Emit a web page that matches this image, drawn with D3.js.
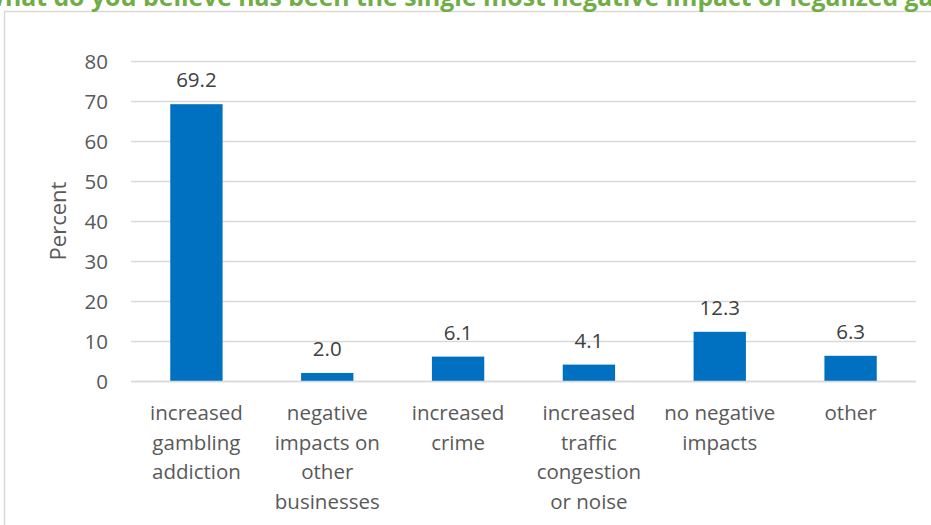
<!DOCTYPE html>
<html>
<head>
<meta charset="utf-8">
<script src="https://cdn.jsdelivr.net/npm/d3@7"></script>
<style>
  html, body { margin: 0; padding: 0; background: #fff; }
  svg { display: block; }
</style>
</head>
<body>
<svg id="chart" width="931" height="525"></svg>
<script>
// Survey responses: single most negative impact of legalized gambling (percent)
const categories = [
  ["increased", "gambling", "addiction"],
  ["negative", "impacts on", "other", "businesses"],
  ["increased", "crime"],
  ["increased", "traffic", "congestion", "or noise"],
  ["no negative", "impacts"],
  ["other"]
];
const values = [69.2, 2.0, 6.1, 4.1, 12.3, 6.3];
const yTicks = [0, 10, 20, 30, 40, 50, 60, 70, 80];
const titleText = "What do you believe has been the single most negative impact of legalized gambling?";
const yAxisTitle = "Percent";

const font = "'Open Sans', Lato, sans-serif";
const fontSize = 20.5;
const svg = d3.select("#chart");

// Chart frame
svg.append("rect")
  .attr("x", 4.5).attr("y", 11.5)
  .attr("width", 940).attr("height", 530)
  .attr("fill", "#fff")
  .attr("stroke", "#d9d9d9").attr("stroke-width", 1.5);

// Title, wider than the frame and clipped at the top edge
const title = svg.append("text")
  .attr("font-family", font)
  .attr("font-weight", "bold")
  .attr("fill", "#70ad47")
  .attr("font-size", 22)
  .attr("y", 6)
  .text(titleText);
{
  const node = title.node();
  const start = titleText.indexOf("hat");
  const end = titleText.indexOf("gambling?");
  const w = node.getSubStringLength(start, end - start);
  const fs = 22 * 900 / w;
  title.attr("font-size", fs);
  const off = node.getSubStringLength(0, start);
  title.attr("x", 5 - off);
}

const margin = { left: 131, right: 15, top: 61, bottom: 144 };
const plotW = 916 - margin.left;
const plotH = 381 - margin.top;

const x = d3.scaleBand()
  .domain(d3.range(values.length))
  .range([margin.left, margin.left + plotW])
  .paddingInner(0.6)
  .paddingOuter(0.3);

const y = d3.scaleLinear()
  .domain([0, 80])
  .range([margin.top + plotH, margin.top]);

// Horizontal gridlines
svg.append("g")
  .selectAll("line")
  .data(yTicks)
  .join("line")
  .attr("x1", margin.left).attr("x2", margin.left + plotW)
  .attr("y1", d => Math.round(y(d)) + 0.5)
  .attr("y2", d => Math.round(y(d)) + 0.5)
  .attr("stroke", "#d9d9d9")
  .attr("stroke-width", 1.3);

// Y axis labels
const yAxis = svg.append("g")
  .attr("transform", `translate(${margin.left - 23},0)`)
  .call(d3.axisLeft(y).tickValues(yTicks).tickSize(0).tickPadding(0));
yAxis.select(".domain").remove();
yAxis.selectAll("text")
  .attr("font-family", font)
  .attr("font-size", fontSize)
  .attr("fill", "#595959")
  .attr("dy", "0.35em");

// Y axis title
svg.append("text")
  .attr("transform", `translate(66,${margin.top + plotH / 2}) rotate(-90)`)
  .attr("text-anchor", "middle")
  .attr("font-family", font)
  .attr("font-size", 22)
  .attr("fill", "#595959")
  .text(yAxisTitle);

// Bars
svg.append("g")
  .selectAll("rect")
  .data(values)
  .join("rect")
  .attr("x", (d, i) => x(i))
  .attr("width", x.bandwidth())
  .attr("y", d => y(d))
  .attr("height", d => y(0) - y(d))
  .attr("fill", "#0070c0");

// Baseline
svg.append("line")
  .attr("x1", margin.left).attr("x2", margin.left + plotW)
  .attr("y1", y(0) + 0.5).attr("y2", y(0) + 0.5)
  .attr("stroke", "#d9d9d9").attr("stroke-width", 1.5);

// Value labels
svg.append("g")
  .selectAll("text")
  .data(values)
  .join("text")
  .attr("x", (d, i) => x(i) + x.bandwidth() / 2)
  .attr("y", d => y(d) - 17)
  .attr("text-anchor", "middle")
  .attr("font-family", font)
  .attr("font-size", fontSize)
  .attr("fill", "#404040")
  .text(d => d.toFixed(1));

// Category labels, wrapped over several lines
const cat = svg.append("g")
  .selectAll("text")
  .data(categories)
  .join("text")
  .attr("text-anchor", "middle")
  .attr("font-family", font)
  .attr("font-size", fontSize)
  .attr("fill", "#595959");
cat.each(function (lines, i) {
  const cx = x(i) + x.bandwidth() / 2;
  d3.select(this).selectAll("tspan")
    .data(lines)
    .join("tspan")
    .attr("x", cx)
    .attr("y", (d, j) => 420 + j * 29.5)
    .text(d => d);
});
</script>
</body>
</html>
